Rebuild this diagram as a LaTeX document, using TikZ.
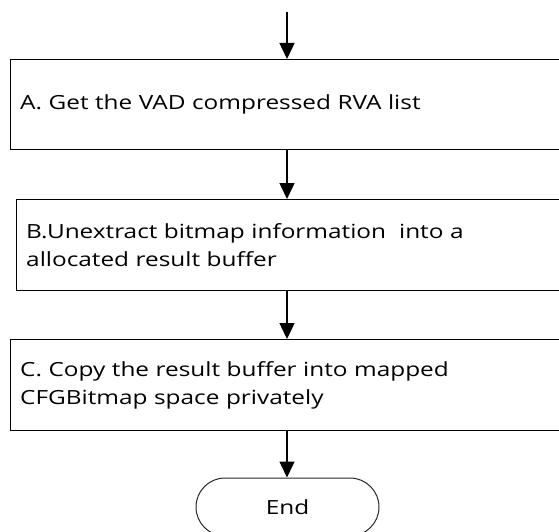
\documentclass[tikz,border=0pt]{standalone}
\usepackage{fontspec}
\setmainfont{Open Sans}[FakeStretch=1.25]
\usetikzlibrary{arrows.meta,shapes.misc}
\begin{document}
\begin{tikzpicture}[x=1pt,y=1pt,
  txt/.style={font=\fontsize{19.5}{28}\selectfont},
  stepbox/.style={txt, draw=black, line width=1.4pt, rectangle, anchor=north west,
    inner xsep=10pt, inner ysep=0pt, align=left},
  endbox/.style={txt, draw=black!85, line width=1pt, rounded rectangle,
    minimum width=183pt, minimum height=58pt, inner sep=0pt},
  flow/.style={line width=1.5pt, -{Triangle[width=15pt,length=16pt]}}]
\useasboundingbox (0,0) rectangle (559,-532);
\clip (0,0) rectangle (559,-532);

% entry point of the flow
\coordinate (entry) at (287,-12.5);

% process steps (their right edges run past the frame)
\node[stepbox, text width=545.5pt, minimum height=90pt] (A) at (9.5,-59)
  {A. Get the VAD compressed RVA list};
\node[stepbox, text width=539.5pt, minimum height=91pt] (B) at (15.5,-199)
  {B.Unextract bitmap information\ \ into a\\allocated result buffer};
\node[stepbox, text width=545.5pt, minimum height=91pt] (C) at (9.5,-339)
  {C. Copy the result buffer into mapped\\CFGBitmap space privately};

% terminator
\node[endbox] (E) at (287.5,-507) {End};

% connectors
\draw[flow] (entry) -- (A.north -| entry);
\draw[flow] (A.south -| entry) -- (B.north -| entry);
\draw[flow] (B.south -| entry) -- (C.north -| entry);
\draw[flow] (C.south -| entry) -- (E.north -| entry);
\end{tikzpicture}
\end{document}
